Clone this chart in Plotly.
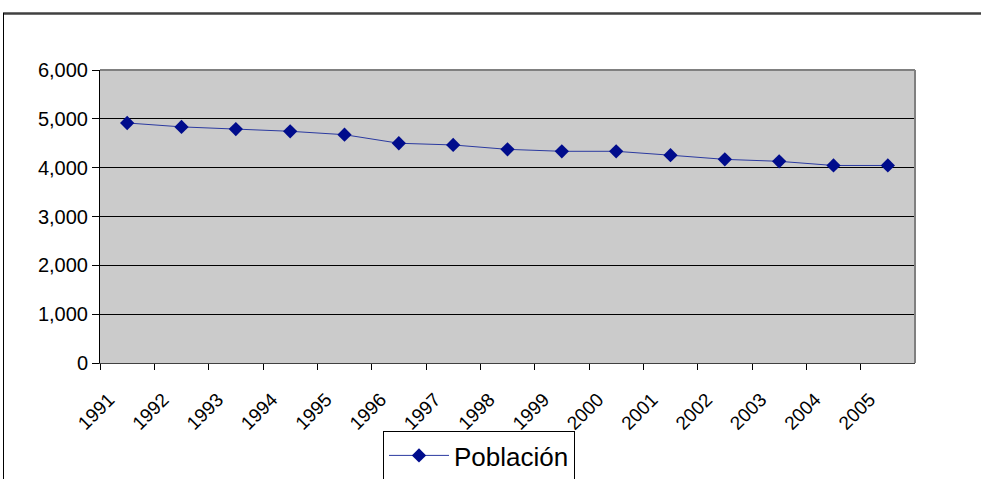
import plotly.graph_objects as go

years = [str(y) for y in range(1991, 2006)]
poblacion = [4915, 4835, 4790, 4745, 4675, 4500, 4465, 4375, 4335, 4335, 4255, 4170, 4130, 4045, 4045]
y_ticks = [0, 1000, 2000, 3000, 4000, 5000, 6000]
y_tick_text = ["0", "1,000", "2,000", "3,000", "4,000", "5,000", "6,000"]

W, H = 981, 479
# target plot area in screen pixels: x 100..915, y 70..363
ml, mt = 100, 70
mr = W - 915
mb = H - 363
pw, ph = W - ml - mr, H - mt - mb

def px2x(px):
    return (px - ml) / pw

def py2y(py):
    return (H - mb - py) / ph

x_pts = [i + 0.5 for i in range(len(years))]

fig = go.Figure()
fig.add_trace(go.Scatter(
    x=x_pts, y=poblacion, mode="lines+markers", name="Población",
    line=dict(color="#2B3AA0", width=1),
    marker=dict(symbol="diamond", size=11, color="#000C8C", line=dict(width=0)),
    hoverinfo="skip",
))

font = "Liberation Sans, Arial, sans-serif"
fig.update_layout(
    width=W, height=H,
    margin=dict(l=ml, r=mr, t=mt, b=mb, autoexpand=False),
    paper_bgcolor="white",
    plot_bgcolor="#CBCBCB",
    showlegend=True,
    legend=dict(
        xref="container", yref="container",
        x=383 / W, y=1 - 431 / H, xanchor="left", yanchor="top",
        bordercolor="black", borderwidth=1, bgcolor="white",
        font=dict(family=font, size=26, color="black"),
        itemwidth=60,
    ),
    xaxis=dict(
        range=[0, len(years)],
        tickmode="array",
        tickvals=list(range(len(years))),
        ticktext=years,
        tickangle=-45,
        ticks="outside", ticklen=6, tickcolor="black",
        ticklabelstandoff=11, ticklabelshift=9,
        showgrid=False, zeroline=False,
        showline=True, linecolor="#404040", linewidth=1,
        tickfont=dict(family=font, size=19, color="black"),
        fixedrange=True,
    ),
    yaxis=dict(
        range=[0, 6000],
        tickmode="array", tickvals=y_ticks, ticktext=y_tick_text,
        ticks="outside", ticklen=7, tickcolor="black",
        showgrid=True, gridcolor="black", gridwidth=1,
        zeroline=False,
        showline=True, linecolor="black", linewidth=1,
        tickfont=dict(family=font, size=20, color="black"),
        fixedrange=True,
    ),
    shapes=[
        dict(type="line", xref="paper", yref="paper", x0=0, x1=1, y0=1, y1=1,
             line=dict(color="#808080", width=2)),
        dict(type="line", xref="paper", yref="paper", x0=1, x1=1, y0=0, y1=1,
             line=dict(color="#808080", width=2)),
        dict(type="line", xref="paper", yref="paper", x0=px2x(3), x1=px2x(995),
             y0=py2y(13.5), y1=py2y(13.5), line=dict(color="#404040", width=2.5)),
        dict(type="line", xref="paper", yref="paper", x0=px2x(3.5), x1=px2x(3.5),
             y0=py2y(13), y1=py2y(495), line=dict(color="black", width=1)),
    ],
)

fig.write_html("out.html", config={"displayModeBar": False},
               post_script="document.body.style.margin='0';")
